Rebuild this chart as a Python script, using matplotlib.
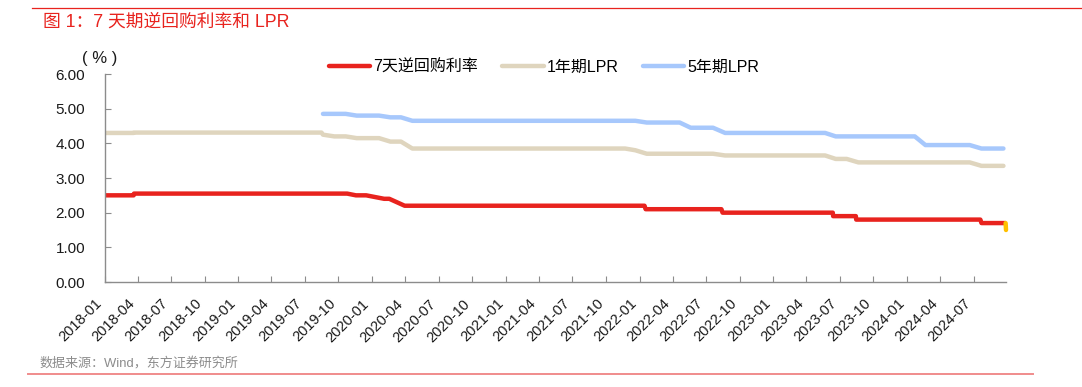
import matplotlib
matplotlib.use("Agg")
import matplotlib.pyplot as plt
import matplotlib.dates as mdates
import matplotlib.transforms as mtransforms
from matplotlib.lines import Line2D
import pandas as pd

plt.rcParams['font.family'] = ['Liberation Sans', 'Noto Sans CJK SC', 'DejaVu Sans']

# ---------------- data ----------------
# 7-day reverse repo rate (observation dates / rates, %)
repo_dates = ["2018-01-02", "2018-03-21", "2018-03-22", "2019-10-25", "2019-11-18",
              "2019-12-16", "2020-02-03", "2020-02-17", "2020-03-30", "2022-01-14",
              "2022-01-17", "2022-08-12", "2022-08-15", "2023-06-12", "2023-06-13",
              "2023-08-14", "2023-08-15", "2024-07-19", "2024-07-22", "2024-09-26"]
repo_rates = [2.50, 2.50, 2.55, 2.55, 2.50,
              2.50, 2.40, 2.40, 2.20, 2.20,
              2.10, 2.10, 2.00, 2.00, 1.90,
              1.90, 1.80, 1.80, 1.70, 1.70]
# latest cut, highlighted
repo_last_dates = ["2024-09-26", "2024-09-27"]
repo_last_rates = [1.70, 1.50]

# LPR observation dates (old LPR before 2019-08, monthly quotes afterwards)
lpr1_dates = ["2018-01-02", "2018-03-21", "2018-03-22", "2019-08-16",
              "2019-08-20", "2019-09-20", "2019-10-21", "2019-11-20", "2019-12-20",
              "2020-01-20", "2020-02-20", "2020-03-20", "2020-04-20", "2021-11-22",
              "2021-12-20", "2022-01-20", "2022-07-20", "2022-08-22", "2023-05-22",
              "2023-06-20", "2023-07-20", "2023-08-21", "2024-06-20", "2024-07-22",
              "2024-08-20", "2024-09-20"]
lpr1_rates = [4.30, 4.30, 4.31, 4.31,
              4.25, 4.20, 4.20, 4.15, 4.15,
              4.15, 4.05, 4.05, 3.85, 3.85,
              3.80, 3.70, 3.70, 3.65, 3.65,
              3.55, 3.55, 3.45, 3.45, 3.35,
              3.35, 3.35]

lpr5_dates = ["2019-08-20", "2019-09-20", "2019-10-21", "2019-11-20", "2020-01-20",
              "2020-02-20", "2020-03-20", "2020-04-20", "2021-12-20", "2022-01-20",
              "2022-04-20", "2022-05-20", "2022-07-20", "2022-08-22", "2023-05-22",
              "2023-06-20", "2024-01-22", "2024-02-20", "2024-06-20", "2024-07-22",
              "2024-08-20", "2024-09-20"]
lpr5_rates = [4.85, 4.85, 4.85, 4.80, 4.80,
              4.75, 4.75, 4.65, 4.65, 4.60,
              4.60, 4.45, 4.45, 4.30, 4.30,
              4.20, 4.20, 3.95, 3.95, 3.85,
              3.85, 3.85]

series_names = ["7天逆回购利率", "1年期LPR", "5年期LPR"]
yticks = [0, 1, 2, 3, 4, 5, 6]

# ---------------- style ----------------
RED = "#E8231E"
BEIGE = "#DFD5BE"
BLUE = "#A7C8FC"
ORANGE = "#FFC000"

W, H = 1082, 387
fig = plt.figure(figsize=(W / 100, H / 100), dpi=100)
ax = fig.add_axes([104.7 / W, 1 - 282 / H, (1006 - 104.7) / W, (282 - 74) / H])

rd = pd.to_datetime(repo_dates)
l1 = pd.to_datetime(lpr1_dates)
l5 = pd.to_datetime(lpr5_dates)
rl = pd.to_datetime(repo_last_dates)

lw = 3.2
ax.plot(l5, lpr5_rates, color=BLUE, lw=lw, solid_capstyle='round', solid_joinstyle='round')
ax.plot(l1, lpr1_rates, color=BEIGE, lw=lw, solid_capstyle='round', solid_joinstyle='round')
ax.plot(rd, repo_rates, color=RED, lw=lw, solid_capstyle='round', solid_joinstyle='round')
ax.plot(rl, repo_last_rates, color=ORANGE, lw=lw, solid_capstyle='round',
        solid_joinstyle='round', clip_on=False)

ax.set_xlim(pd.Timestamp("2018-01-01"), pd.Timestamp("2024-09-27"))
ax.set_ylim(0, 6)
ax.set_yticks(yticks)
ax.set_yticklabels([f"{v:.2f}" for v in yticks])

ax.xaxis.set_major_locator(mdates.MonthLocator(bymonth=[1, 4, 7, 10]))
ax.xaxis.set_major_formatter(mdates.DateFormatter("%Y-%m"))

for s in ["top", "right"]:
    ax.spines[s].set_visible(False)
for s in ["left", "bottom"]:
    ax.spines[s].set_color("#8C8C8C")
    ax.spines[s].set_linewidth(1.0)

ax.tick_params(axis='y', direction='in', length=4, width=0.8, color="#8C8C8C",
               labelsize=11, pad=14, labelcolor="#1a1a1a")
ax.tick_params(axis='x', direction='in', length=4, width=0.8, color="#8C8C8C",
               labelsize=10.5, pad=4, labelcolor="#1a1a1a")
offset = mtransforms.ScaledTranslation(-10 / 100, -9 / 100, fig.dpi_scale_trans)
for lab in ax.get_xticklabels():
    lab.set_rotation(45)
    lab.set_ha('right')
    lab.set_va('top')
    lab.set_rotation_mode('anchor')
    lab.set_transform(lab.get_transform() + offset)

# legend
handles = [Line2D([], [], color=c, lw=lw, solid_capstyle='round') for c in (RED, BEIGE, BLUE)]
fig.legend(handles, series_names, ncol=3, loc='center',
           bbox_to_anchor=(544 / W, 1 - 67 / H), frameon=False, fontsize=11.5,
           handlelength=2.6, handletextpad=0.2, columnspacing=1.5)

# unit label
fig.text(100 / W, 1 - 58 / H, "( % )", ha='center', va='center', fontsize=12, color="#1a1a1a")

# title and footer
fig.text(43 / W, 1 - 22 / H, "图 1：7 天期逆回购利率和 LPR", ha='left', va='center',
         fontsize=12.8, color=RED)
fig.text(40 / W, 1 - 363 / H, "数据来源：Wind，东方证券研究所", ha='left', va='center',
         fontsize=9.4, color="#8C8C8C")

fig.add_artist(Line2D([32 / W, 1.0], [1 - 8 / H, 1 - 8 / H], color=RED, lw=0.9,
                      transform=fig.transFigure))
fig.add_artist(Line2D([28 / W, 1033 / W], [1 - 374 / H, 1 - 374 / H], color="#F08C8C",
                      lw=1.4, transform=fig.transFigure))

fig.savefig("out.png", dpi=100)
